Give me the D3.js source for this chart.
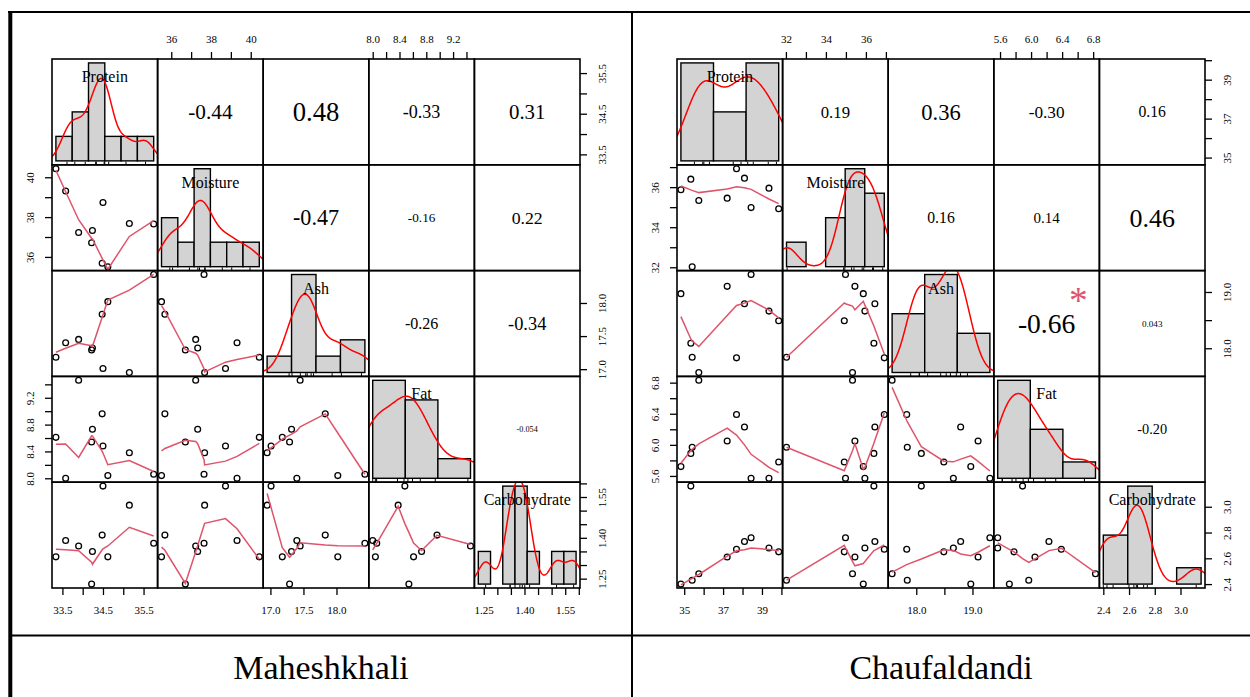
<!DOCTYPE html>
<html>
<head>
    <meta charset="utf-8" />
    <title>Correlation matrices - Maheshkhali and Chaufaldandi</title>
    <style>
        body { margin: 0; background: #fff; }
        text { font-family: "Liberation Serif", "Times New Roman", serif; }
    </style>
</head>
<body>
<script src="https://d3js.org/d3.v7.min.js"></script>
<script>
    var varNames = ["Protein", "Moisture", "Ash", "Fat", "Carbohydrate"];

    // Maheshkhali samples
    var mProtein  = [33.34, 33.58, 33.90, 34.24, 34.22, 34.50, 34.48, 34.62, 35.15, 35.75];
    var mMoisture = [40.43, 39.31, 37.23, 37.33, 36.71, 38.73, 35.68, 35.51, 37.68, 37.65];
    var mAsh      = [17.18, 17.40, 17.45, 17.32, 17.29, 17.01, 17.83, 18.02, 16.95, 18.43];
    var mFat      = [8.61, 8.00, 9.46, 8.73, 8.54, 8.48, 8.96, 8.04, 8.38, 8.06];
    var mCarb     = [1.33, 1.39, 1.37, 1.35, 1.23, 1.59, 1.41, 1.33, 1.52, 1.38];

    // Chaufaldandi samples
    var rProtein  = [34.83, 35.34, 35.75, 35.41, 37.21, 37.69, 38.10, 38.44, 39.36, 39.86];
    var rMoisture = [35.87, 36.40, 35.33, 32.03, 35.45, 36.92, 36.45, 34.98, 35.95, 34.92];
    var rAsh      = [18.97, 18.09, 17.57, 17.84, 19.10, 17.83, 18.79, 19.31, 18.66, 18.49];
    var rFat      = [5.72, 5.89, 6.83, 5.97, 6.05, 6.39, 6.23, 5.57, 5.57, 5.78];
    var rCarb     = [2.40, 3.16, 2.48, 2.43, 2.61, 2.67, 2.73, 2.76, 2.68, 2.65];

    // histogram breaks
    var mBreaks = [[33, 33.5, 34, 34.5, 35, 35.5, 36], [35, 36, 37, 38, 39, 40, 41],
                   [16.5, 17, 17.5, 18, 18.5], [8, 8.5, 9, 9.5],
                   [1.2, 1.25, 1.3, 1.35, 1.4, 1.45, 1.5, 1.55, 1.6]];
    var rBreaks = [[34, 36, 38, 40], [32, 33, 34, 35, 36, 37], [17, 18, 19, 20],
                   [5.5, 6, 6.5, 7], [2.4, 2.6, 2.8, 3.0, 3.2]];

    // axis ticks and the labels that are printed
    var mTicks = [[33.5, 34, 34.5, 35, 35.5], [36, 37, 38, 39, 40], [17, 17.5, 18],
                  [8.0, 8.2, 8.4, 8.6, 8.8, 9.0, 9.2, 9.4],
                  [1.25, 1.30, 1.35, 1.40, 1.45, 1.50, 1.55, 1.60]];
    var mTickLabels = [["33.5", "34.5", "35.5"], ["36", "38", "40"], ["17.0", "17.5", "18.0"],
                       ["8.0", "8.4", "8.8", "9.2"], ["1.25", "1.40", "1.55"]];
    var rTicks = [[35, 36, 37, 38, 39, 40], [32, 33, 34, 35, 36, 37], [18, 18.5, 19],
                  [5.6, 5.8, 6.0, 6.2, 6.4, 6.6, 6.8], [2.4, 2.6, 2.8, 3.0]];
    var rTickLabels = [["35", "37", "39"], ["32", "34", "36"], ["18.0", "19.0"],
                       ["5.6", "6.0", "6.4", "6.8"], ["2.4", "2.6", "2.8", "3.0"]];

    // upper panels, row by row
    var mCorr = ["-0.44", "0.48", "-0.33", "0.31", "-0.47", "-0.16", "0.22", "-0.26", "-0.34", "-0.054"];
    var mStars = ["", "", "", "", "", "", "", "", "", ""];
    var rCorr = ["0.19", "0.36", "-0.30", "0.16", "0.16", "0.14", "0.46", "-0.66", "0.043", "-0.20"];
    var rStars = ["", "", "", "", "", "", "", "*", "", ""];

    var sites = ["Maheshkhali", "Chaufaldandi"];

    var width = 1250, height = 697;
    var cellW = 105.6, cellH = 105.8, tickLen = 7;
    var smoothCol = "#DF536B";

    var svg = d3.select("body").append("svg")
                .attr("width", width)
                .attr("height", height);
    var defs = svg.append("defs");
    var clipId = 0;

    function padded(ext) {
        var d = (ext[1] - ext[0]) * 0.04;
        return [ext[0] - d, ext[1] + d];
    }

    // R's lowess (clowess), f = 2/3, 3 robustness steps
    function lowess(xIn, yIn) {
        var f = 2 / 3, nsteps = 3;
        var n = xIn.length;
        var ord = d3.range(n).sort(function(a, b) { return xIn[a] - xIn[b]; });
        var x = [0].concat(ord.map(function(i) { return xIn[i]; }));
        var y = [0].concat(ord.map(function(i) { return yIn[i]; }));
        var ys = new Array(n + 1).fill(0);
        var rw = new Array(n + 1).fill(1);
        var w = new Array(n + 1).fill(0);
        var delta = 0.01 * (x[n] - x[1]);
        var ns = Math.max(2, Math.min(n, Math.floor(f * n + 1e-7)));

        function lowest(xs, nleft, nright, userw) {
            var range = x[n] - x[1];
            var h = Math.max(xs - x[nleft], x[nright] - xs);
            var h9 = 0.999 * h, h1 = 0.001 * h;
            var a = 0, j = nleft;
            while (j <= n) {
                w[j] = 0;
                var r = Math.abs(x[j] - xs);
                if (r <= h9) {
                    w[j] = r <= h1 ? 1 : Math.pow(1 - Math.pow(r / h, 3), 3);
                    if (userw) w[j] *= rw[j];
                    a += w[j];
                } else if (x[j] > xs) break;
                j++;
            }
            var nrt = j - 1;
            if (a <= 0) return null;
            for (j = nleft; j <= nrt; j++) w[j] /= a;
            if (h > 0) {
                a = 0;
                for (j = nleft; j <= nrt; j++) a += w[j] * x[j];
                var b = xs - a, c = 0;
                for (j = nleft; j <= nrt; j++) c += w[j] * (x[j] - a) * (x[j] - a);
                if (Math.sqrt(c) > 0.001 * range) {
                    b /= c;
                    for (j = nleft; j <= nrt; j++) w[j] *= (b * (x[j] - a) + 1);
                }
            }
            var out = 0;
            for (j = nleft; j <= nrt; j++) out += w[j] * y[j];
            return out;
        }

        var iter = 1;
        while (iter <= nsteps + 1) {
            var nleft = 1, nright = ns, last = 0, i = 1;
            for (;;) {
                if (nright < n) {
                    var d1 = x[i] - x[nleft], d2 = x[nright + 1] - x[i];
                    if (d1 > d2) { nleft++; nright++; continue; }
                }
                var v = lowest(x[i], nleft, nright, iter > 1);
                ys[i] = v === null ? y[i] : v;
                if (last < i - 1) {
                    var denom = x[i] - x[last];
                    for (var j = last + 1; j < i; j++) {
                        var alpha = (x[j] - x[last]) / denom;
                        ys[j] = alpha * ys[i] + (1 - alpha) * ys[last];
                    }
                }
                last = i;
                var cut = x[last] + delta;
                for (i = last + 1; i <= n; i++) {
                    if (x[i] > cut) break;
                    if (x[i] === x[last]) { ys[i] = ys[last]; last = i; }
                }
                i = Math.max(last + 1, i - 1);
                if (last >= n) break;
            }
            var resid = d3.range(n).map(function(k) { return y[k + 1] - ys[k + 1]; });
            var sc = d3.sum(resid, Math.abs) / n;
            if (iter > nsteps) break;
            var ab = resid.map(Math.abs).sort(d3.ascending);
            var m1 = Math.floor(n / 2);
            var cmad = n % 2 === 0 ? 3 * (ab[m1] + ab[n - m1 - 1]) : 6 * ab[m1];
            if (cmad < 1e-7 * sc) break;
            var c9 = 0.999 * cmad, c1 = 0.001 * cmad;
            for (var k = 0; k < n; k++) {
                var r = Math.abs(resid[k]);
                rw[k + 1] = r <= c1 ? 1 : (r <= c9 ? Math.pow(1 - Math.pow(r / cmad, 2), 2) : 0);
            }
            iter++;
        }
        return d3.range(1, n + 1).map(function(k) { return [x[k], ys[k]]; });
    }

    // gaussian density with bw.nrd0, 512 points, cut = 3
    function density(vals) {
        var s = vals.slice().sort(d3.ascending);
        var hi = d3.deviation(vals);
        var lo = Math.min(hi, (d3.quantileSorted(s, 0.75) - d3.quantileSorted(s, 0.25)) / 1.34);
        if (!lo) lo = hi || Math.abs(vals[0]) || 1;
        var bw = 0.9 * lo * Math.pow(vals.length, -0.2);
        var from = s[0] - 3 * bw, to = s[s.length - 1] + 3 * bw;
        return d3.range(512).map(function(i) {
            var xv = from + (to - from) * i / 511;
            var dv = d3.mean(vals, function(v) {
                var z = (xv - v) / bw;
                return Math.exp(-0.5 * z * z) / (bw * Math.sqrt(2 * Math.PI));
            });
            return [xv, dv];
        });
    }

    function drawMatrix(cfg) {
        var g = svg.append("g");
        var n = cfg.vars.length;
        var xs = cfg.vars.map(function(v, j) {
            return d3.scaleLinear().domain(padded(d3.extent(v)))
                     .range([cfg.x0 + j * cellW, cfg.x0 + (j + 1) * cellW]);
        });
        var ys = cfg.vars.map(function(v, i) {
            return d3.scaleLinear().domain(padded(d3.extent(v)))
                     .range([cfg.y0 + (i + 1) * cellH, cfg.y0 + i * cellH]);
        });

        var up = 0;
        for (var i = 0; i < n; i++) {
            for (var j = 0; j < n; j++) {
                var cx = cfg.x0 + j * cellW, cy = cfg.y0 + i * cellH;
                var cell = g.append("g");

                if (i === j) {
                    // histogram + density + rug
                    var vals = cfg.vars[i], br = cfg.breaks[i];
                    var nb = br.length - 1, bwid = br[1] - br[0];
                    var counts = new Array(nb).fill(0);
                    vals.forEach(function(v) {
                        for (var b = 0; b < nb; b++) {
                            if ((v > br[b] || (b === 0 && v === br[0])) && v <= br[b + 1]) { counts[b]++; break; }
                        }
                    });
                    var dens = counts.map(function(c) { return c / (vals.length * bwid); });
                    var hx = d3.scaleLinear().domain(padded([br[0], br[nb]])).range([cx, cx + cellW]);
                    var hy = d3.scaleLinear().domain(padded([0, d3.max(dens)])).range([cy + cellH, cy]);

                    cell.selectAll("rect.bar")
                        .data(dens)
                        .enter().append("rect")
                        .attr("class", "bar")
                        .attr("x", function(d, b) { return hx(br[b]); })
                        .attr("width", function(d, b) { return hx(br[b + 1]) - hx(br[b]); })
                        .attr("y", function(d) { return hy(d); })
                        .attr("height", function(d) { return hy(0) - hy(d); })
                        .attr("fill", "#d3d3d3")
                        .attr("stroke", "#000")
                        .attr("stroke-width", 1.4);

                    var id = "clip" + (clipId++);
                    defs.append("clipPath").attr("id", id)
                        .append("rect")
                        .attr("x", cx).attr("y", cy)
                        .attr("width", cellW).attr("height", cellH);

                    cell.append("path")
                        .attr("d", d3.line().x(function(d) { return hx(d[0]); })
                                            .y(function(d) { return hy(d[1]); })(density(vals)))
                        .attr("clip-path", "url(#" + id + ")")
                        .attr("fill", "none")
                        .attr("stroke", "red")
                        .attr("stroke-width", 1.5);

                    cell.selectAll("line.rug")
                        .data(vals)
                        .enter().append("line")
                        .attr("x1", function(d) { return hx(d); })
                        .attr("x2", function(d) { return hx(d); })
                        .attr("y1", cy + cellH)
                        .attr("y2", cy + cellH - 3.2)
                        .attr("stroke", "#000")
                        .attr("stroke-width", 1);

                    cell.append("text")
                        .attr("x", cx + cellW / 2)
                        .attr("y", cy + cellH * (1 - 0.8333) + 5.3)
                        .attr("text-anchor", "middle")
                        .attr("font-size", 16)
                        .text(varNames[i]);
                } else if (i > j) {
                    // scatter + lowess
                    var px = cfg.vars[j], py = cfg.vars[i];
                    var sx = xs[j], sy = ys[i];
                    cell.selectAll("circle")
                        .data(px)
                        .enter().append("circle")
                        .attr("cx", function(d) { return sx(d); })
                        .attr("cy", function(d, k) { return sy(py[k]); })
                        .attr("r", 2.9)
                        .attr("fill", "none")
                        .attr("stroke", "#000")
                        .attr("stroke-width", 1.3);

                    cell.append("path")
                        .attr("d", d3.line().x(function(d) { return sx(d[0]); })
                                            .y(function(d) { return sy(d[1]); })(lowess(px, py)))
                        .attr("fill", "none")
                        .attr("stroke", smoothCol)
                        .attr("stroke-width", 1.5);
                } else {
                    // correlation text, size grows with |r|
                    var txt = cfg.corr[up], r = Math.abs(parseFloat(txt));
                    var t = cell.append("text")
                                .attr("text-anchor", "middle")
                                .attr("font-size", 20)
                                .text(txt);
                    var target = 0.8 * cellW * 0.92 * (r + 0.3) / 1.3;
                    var fs = 20 * target / t.node().getComputedTextLength();
                    t.attr("font-size", fs)
                     .attr("x", cx + cellW / 2)
                     .attr("y", cy + cellH / 2 + 0.34 * fs);

                    if (cfg.stars[up]) {
                        var fsStar = fs * 1.3 / (r + 0.3);
                        cell.append("text")
                            .attr("x", cx + 0.8 * cellW)
                            .attr("y", cy + 0.2 * cellH + 0.57 * fsStar)
                            .attr("text-anchor", "middle")
                            .attr("font-size", fsStar)
                            .attr("fill", smoothCol)
                            .text(cfg.stars[up]);
                    }
                    up++;
                }

                cell.append("rect")
                    .attr("x", cx).attr("y", cy)
                    .attr("width", cellW).attr("height", cellH)
                    .attr("fill", "none")
                    .attr("stroke", "#000")
                    .attr("stroke-width", 1.6);
            }
        }

        // axes, alternating sides like pairs()
        function fmt(labels) {
            return function(d) {
                var hit = labels.filter(function(l) { return Math.abs(parseFloat(l) - d) < 1e-9; });
                return hit.length ? hit[0] : "";
            };
        }
        function styleAxis(ag) {
            ag.select(".domain").remove();
            ag.selectAll("line").attr("stroke", "#000").attr("stroke-width", 1.3);
            ag.selectAll("text").attr("fill", "#000").attr("font-size", 11)
              .attr("font-family", "Liberation Serif, Times New Roman, serif");
        }
        for (var a = 0; a < n; a++) {
            var top = a % 2 === 1;
            var xAxis = (top ? d3.axisTop(xs[a]) : d3.axisBottom(xs[a]))
                            .tickValues(cfg.ticks[a])
                            .tickFormat(fmt(cfg.tickLabels[a]))
                            .tickSize(tickLen)
                            .tickPadding(top ? 9 : 11.2);
            var xg = g.append("g")
                      .attr("transform", "translate(0," + (top ? cfg.y0 : cfg.y0 + n * cellH) + ")")
                      .call(xAxis);
            styleAxis(xg);

            var left = a % 2 === 1;
            var yAxis = (left ? d3.axisLeft(ys[a]) : d3.axisRight(ys[a]))
                            .tickValues(cfg.ticks[a])
                            .tickFormat(fmt(cfg.tickLabels[a]))
                            .tickSize(tickLen);
            var yg = g.append("g")
                      .attr("transform", "translate(" + (left ? cfg.x0 : cfg.x0 + n * cellW) + ",0)")
                      .call(yAxis);
            styleAxis(yg);
            yg.selectAll("text")
              .attr("x", null).attr("dy", null)
              .attr("text-anchor", "middle")
              .attr("transform", "translate(" + (left ? -18 : 25.5) + ",0) rotate(-90)");
        }

        svg.append("text")
           .attr("x", cfg.titleX)
           .attr("y", 679)
           .attr("text-anchor", "middle")
           .attr("font-size", 34)
           .text(cfg.title);
    }

    drawMatrix({title: sites[0], titleX: 321, x0: 52, y0: 59,
                vars: [mProtein, mMoisture, mAsh, mFat, mCarb],
                breaks: mBreaks, ticks: mTicks, tickLabels: mTickLabels,
                corr: mCorr, stars: mStars});
    drawMatrix({title: sites[1], titleX: 941, x0: 677, y0: 59,
                vars: [rProtein, rMoisture, rAsh, rFat, rCarb],
                breaks: rBreaks, ticks: rTicks, tickLabels: rTickLabels,
                corr: rCorr, stars: rStars});

    // frame around the figure
    var frame = svg.append("g").attr("stroke", "#000");
    frame.append("line").attr("x1", 8).attr("x2", width).attr("y1", 12).attr("y2", 12).attr("stroke-width", 2);
    frame.append("line").attr("x1", 10.3).attr("x2", 10.3).attr("y1", 11).attr("y2", height).attr("stroke-width", 4);
    frame.append("line").attr("x1", 632).attr("x2", 632).attr("y1", 12).attr("y2", height).attr("stroke-width", 2);
    frame.append("line").attr("x1", 10).attr("x2", width).attr("y1", 635.5).attr("y2", 635.5).attr("stroke-width", 2);
</script>
</body>
</html>
